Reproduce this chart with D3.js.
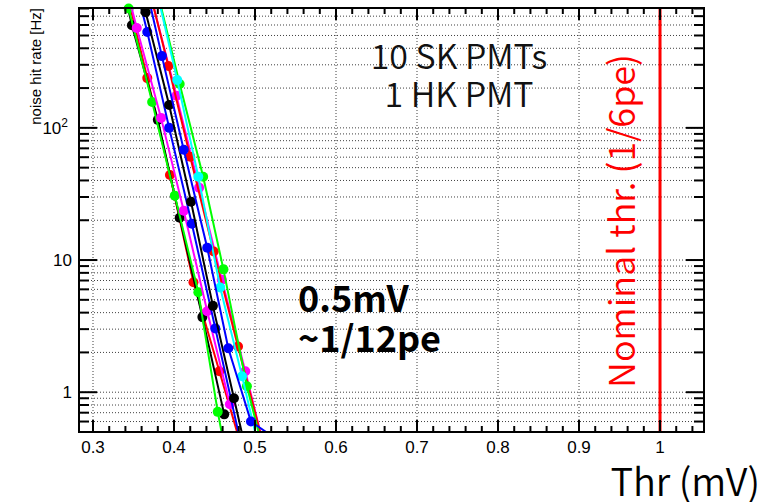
<!DOCTYPE html>
<html>
<head>
<meta charset="utf-8">
<script src="https://cdn.jsdelivr.net/npm/d3@7"></script>
<style>
body { margin: 0; background: #fff; }
</style>
</head>
<body>
<div id="chart"></div>
<script>
var width = 763;
var height = 502;
var margin = {left: 79, top: 8, right: 59, bottom: 70};

// threshold [mV] and noise rate [Hz] per PMT
var thrRedA = [0.338, 0.367, 0.395, 0.424, 0.456, 0.482];
var hzRedA = [1310, 238, 44, 6.8, 1.44, 0.41];
var thrBlackB = [0.321, 0.348, 0.380, 0.407, 0.435, 0.462];
var hzBlackB = [3240, 598, 115, 20.9, 3.7, 0.68];
var thrGreenA = [0.316, 0.344, 0.373, 0.401, 0.430, 0.454, 0.479];
var hzGreenA = [4120, 800, 157, 30.7, 5.7, 0.71, 0.11];
var thrMagentaB = [0.374, 0.403, 0.431, 0.459, 0.488, 0.516];
var hzMagentaB = [862, 175, 35.3, 7.1, 1.44, 0.29];
var thrRedB = [0.365, 0.393, 0.420, 0.449, 0.479, 0.509];
var hzRedB = [1430, 294, 60.4, 11.6, 2.22, 0.43];
var thrGreenB = [0.379, 0.407, 0.436, 0.461, 0.490, 0.519];
var hzGreenB = [1100, 215, 42.7, 8.5, 1.11, 0.22];
var thrMagentaA = [0.325, 0.354, 0.384, 0.412, 0.441, 0.469];
var hzMagentaA = [2860, 569, 119, 23.6, 4.1, 0.81];
var thrBlueB = [0.338, 0.367, 0.394, 0.422, 0.451, 0.480];
var hzBlueB = [2810, 531, 100, 18.8, 3.04, 0.48];
var thrCyan = [0.377, 0.404, 0.430, 0.457, 0.484, 0.511];
var hzCyan = [1200, 230, 42.7, 6.2, 1.32, 0.26];
var thrBlackA = [0.338, 0.365, 0.394, 0.421, 0.448, 0.474, 0.501];
var hzBlackA = [4000, 750, 149, 27.6, 4.5, 0.90, 0.17];
var thrBlueA = [0.358, 0.385, 0.412, 0.441, 0.467, 0.495, 0.520];
var hzBlueA = [1860, 349, 68.2, 12.4, 2.15, 0.60, 0.47];

var xTicks = [0.3, 0.4, 0.5, 0.6, 0.7, 0.8, 0.9, 1.0];
var xTickLabels = ["0.3", "0.4", "0.5", "0.6", "0.7", "0.8", "0.9", "1"];
var yTicks = [1, 10, 100];
var yTickLabels = ["1", "10", "10^2"];
var nominalThr = 1.0;

var series = [
  {color: "#ff0000", thr: thrRedA, hz: hzRedA},
  {color: "#000000", thr: thrBlackB, hz: hzBlackB},
  {color: "#00ff00", thr: thrGreenA, hz: hzGreenA},
  {color: "#ff00ff", thr: thrMagentaB, hz: hzMagentaB},
  {color: "#ff0000", thr: thrRedB, hz: hzRedB},
  {color: "#00ff00", thr: thrGreenB, hz: hzGreenB},
  {color: "#ff00ff", thr: thrMagentaA, hz: hzMagentaA},
  {color: "#0000ff", thr: thrBlueB, hz: hzBlueB},
  {color: "#00ffff", thr: thrCyan, hz: hzCyan},
  {color: "#000000", thr: thrBlackA, hz: hzBlackA},
  {color: "#0000ff", thr: thrBlueA, hz: hzBlueA}
];

var svg = d3.select("#chart")
            .append("svg")
            .attr("width", width)
            .attr("height", height);

var w = width - margin.left - margin.right;
var h = height - margin.top - margin.bottom;

var x = d3.scaleLinear()
          .domain([0.2827, 1.0543])
          .range([0, w]);

var y = d3.scaleLog()
          .domain([0.5, 807])
          .range([h, 0]);

var group = svg.append("g")
               .attr("transform", "translate(" + margin.left + "," + margin.top + ")");

group.append("clipPath").attr("id", "clip")
     .append("rect").attr("width", w).attr("height", h);

// log minor values
var yAll = [];
for (var d = -1; d <= 2; d++) {
  for (var m = 1; m <= 9; m++) {
    var v = m * Math.pow(10, d);
    if (v >= 0.5 && v <= 807) yAll.push(v);
  }
}
var xMinor = d3.range(0.30, 1.05, 0.02).filter(function(v) { return v <= 1.0543; });

// grid
group.selectAll(".hgrid")
     .data(yAll)
     .enter().append("line")
     .attr("x1", 0).attr("x2", w)
     .attr("y1", function(d) { return y(d); })
     .attr("y2", function(d) { return y(d); })
     .attr("stroke", "#000").attr("stroke-width", 1)
     .attr("stroke-dasharray", "1,2").attr("opacity", 0.75);

group.selectAll(".vgrid")
     .data(xTicks)
     .enter().append("line")
     .attr("x1", function(d) { return x(d); })
     .attr("x2", function(d) { return x(d); })
     .attr("y1", 0).attr("y2", h)
     .attr("stroke", "#000").attr("stroke-width", 1)
     .attr("stroke-dasharray", "1,2").attr("opacity", 0.75);

// nominal threshold line
group.append("line")
     .attr("x1", x(nominalThr)).attr("x2", x(nominalThr))
     .attr("y1", 0).attr("y2", h)
     .attr("stroke", "#ff0000").attr("stroke-width", 3);

var line = d3.line()
             .x(function(d) { return x(d[0]); })
             .y(function(d) { return y(d[1]); });

series.forEach(function(s) {
  var pts = s.thr.map(function(t, i) { return [t, s.hz[i]]; });
  group.append("path")
       .datum(pts)
       .attr("d", line)
       .attr("clip-path", "url(#clip)")
       .attr("fill", "none")
       .attr("stroke", s.color)
       .attr("stroke-width", 2);
  group.selectAll(null)
       .data(pts.filter(function(p) { return p[1] >= 0.5 && p[1] <= 807; }))
       .enter().append("circle")
       .attr("cx", function(p) { return x(p[0]); })
       .attr("cy", function(p) { return y(p[1]); })
       .attr("r", 5)
       .attr("fill", s.color);
});

// frame
group.append("rect")
     .attr("width", w).attr("height", h)
     .attr("fill", "none").attr("stroke", "#000").attr("stroke-width", 2);

// ticks on all four sides
function tick(x1, y1, x2, y2) {
  group.append("line")
       .attr("x1", x1).attr("y1", y1).attr("x2", x2).attr("y2", y2)
       .attr("stroke", "#000").attr("stroke-width", 2);
}
xMinor.forEach(function(v) {
  var major = xTicks.some(function(t) { return Math.abs(t - v) < 1e-6; });
  var len = major ? 12 : 6;
  tick(x(v), h, x(v), h - len);
  tick(x(v), 0, x(v), len);
});
yAll.forEach(function(v) {
  var major = yTicks.indexOf(v) >= 0;
  var len = major ? 18 : 10;
  tick(0, y(v), len, y(v));
  tick(w, y(v), w - len, y(v));
});

// tick labels
group.selectAll(".xlab")
     .data(xTicks)
     .enter().append("text")
     .attr("x", function(d) { return x(d); })
     .attr("y", h + 21)
     .attr("text-anchor", "middle")
     .attr("font-family", "Liberation Sans, Arial, sans-serif")
     .attr("font-size", 17)
     .text(function(d, i) { return xTickLabels[i]; });

yTicks.forEach(function(v, i) {
  var t = group.append("text")
               .attr("x", -7)
               .attr("y", y(v) + 6)
               .attr("text-anchor", "end")
               .attr("font-family", "Liberation Sans, Arial, sans-serif")
               .attr("font-size", 17);
  var parts = yTickLabels[i].split("^");
  if (parts.length > 1) {
    t.attr("x", -11);
    t.append("tspan").text(parts[0]);
    t.append("tspan").attr("dy", -7).attr("font-size", 12).text(parts[1]);
  } else {
    t.text(parts[0]);
  }
});

// axis titles
svg.append("text")
   .attr("transform", "translate(41," + margin.top + ") rotate(-90)")
   .attr("text-anchor", "end")
   .attr("font-family", "Liberation Sans, Arial, sans-serif")
   .attr("font-size", 15)
   .text("noise hit rate [Hz]");

var cjk = "'Noto Sans CJK JP', sans-serif";

svg.append("text")
   .attr("x", 760).attr("y", 496)
   .attr("text-anchor", "end")
   .attr("font-family", cjk)
   .attr("font-size", 38)
   .attr("font-weight", 350)
   .text("Thr (mV)");

// annotations
svg.append("text").attr("x", 459).attr("y", 69).attr("text-anchor", "middle")
   .attr("font-family", cjk).attr("font-size", 34).attr("font-weight", 350).attr("fill", "#111")
   .text("10 SK PMTs");
svg.append("text").attr("x", 459).attr("y", 107).attr("text-anchor", "middle")
   .attr("font-family", cjk).attr("font-size", 34).attr("font-weight", 350).attr("fill", "#111")
   .text("1 HK PMT");
svg.append("text").attr("x", 298).attr("y", 312)
   .attr("font-family", cjk).attr("font-size", 36).attr("font-weight", "bold")
   .text("0.5mV");
svg.append("text").attr("x", 298).attr("y", 352)
   .attr("font-family", cjk).attr("font-size", 36).attr("font-weight", "bold")
   .text("~1/12pe");
svg.append("text")
   .attr("transform", "translate(635,221) rotate(-90)")
   .attr("text-anchor", "middle")
   .attr("font-family", cjk).attr("font-size", 36).attr("font-weight", 350).attr("fill", "#ff0000")
   .text("Nominal thr. (1/6pe)");
</script>
</body>
</html>
